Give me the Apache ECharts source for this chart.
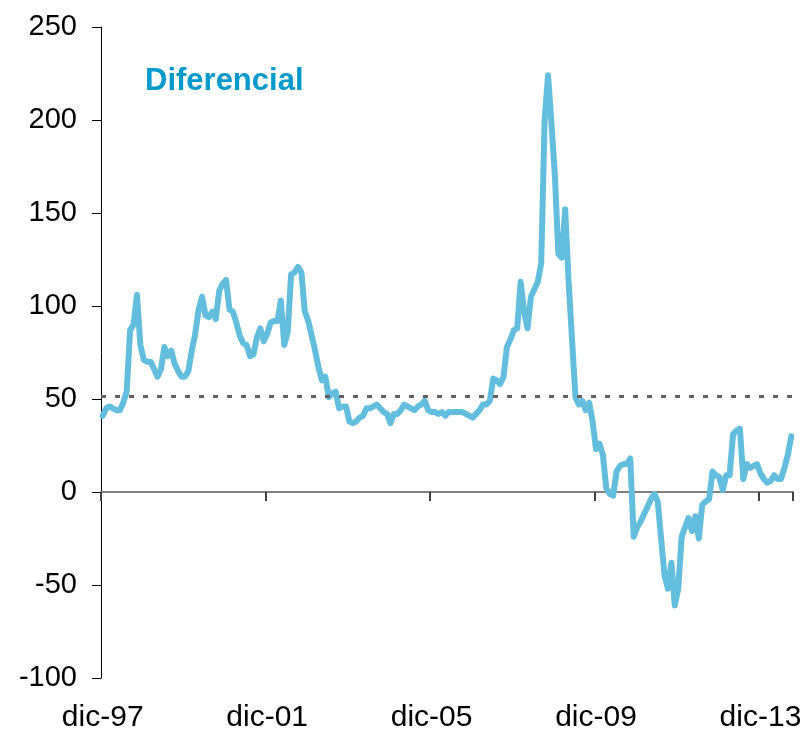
<!DOCTYPE html>
<html>
<head>
<meta charset="utf-8">
<script src="https://cdn.jsdelivr.net/npm/echarts@6/dist/echarts.min.js"></script>
<style>
html,body{margin:0;padding:0;background:#fff;}
#chart{width:810px;height:735px;}
</style>
</head>
<body>
<div id="chart"></div>
<script>
// Monthly series, starting dic-97
const monthNames = ['ene','feb','mar','abr','may','jun','jul','ago','sep','oct','nov','dic'];
const startYear = 1997;
const startMonth = 11; // dic
const diferencial = [
  41,45,46,45,44,44,48,54,87,90,106,79,
  71,70,70,66,62,66,78,73,76,69,65,62,
  62,65,76,85,98,105,95,94,97,93,108,112,
  114,98,97,91,84,80,79,73,74,83,88,81,
  85,91,92,92,103,79,86,117,118,121,118,97,
  92,84,76,67,60,62,51,53,54,45,46,46,
  38,37,38,40,41,45,45,46,47,45,43,42,
  37,42,42,44,47,46,45,44,46,47,49,44,
  43,43,42,43,41,43,43,43,43,43,42,41,
  40,42,44,47,47,49,61,60,58,62,78,82,
  87,88,113,97,88,105,109,113,123,200,224,198,
  170,128,126,152,113,82,51,47,49,44,48,38,
  23,26,20,2,-1,-2,11,14,15,15,18,-24,
  -19,-16,-12,-8,-4,-1,-5,-25,-45,-52,-38,-61,
  -52,-24,-19,-14,-21,-13,-25,-7,-5,-4,11,9,
  8,1,9,9,31,33,34,7,15,13,14,15,
  10,7,5,6,9,7,7,13,20,30
];
const promedio = 51.5;
const yTicks = [-100, -50, 0, 50, 100, 150, 200, 250];
const seriesName = 'Diferencial';

const categories = diferencial.map((_, i) => {
  const m = startMonth + i;
  const y = startYear + Math.floor(m / 12);
  return monthNames[m % 12] + '-' + String(y % 100).padStart(2, '0');
});

const FONT = "'Liberation Sans', Arial, sans-serif";
const chart = echarts.init(document.getElementById('chart'), null, {renderer: 'canvas'});
chart.setOption({
  animation: false,
  backgroundColor: '#ffffff',
  title: {
    text: seriesName,
    left: 140, top: 61,
    textStyle: {color: '#0099cc', fontWeight: 'bold', fontSize: 31, fontFamily: FONT}
  },
  grid: {left: 101, right: 17, top: 27, bottom: 57, containLabel: false},
  xAxis: [
    {
      type: 'category', data: categories, boundaryGap: true, position: 'bottom',
      axisLine: {show: false, onZero: false},
      axisTick: {show: false},
      axisLabel: {interval: 47, margin: 25, color: '#000', fontSize: 30, fontFamily: FONT},
      splitLine: {show: false}
    },
    {
      type: 'category', data: categories, boundaryGap: true, position: 'bottom',
      axisLine: {show: true, onZero: true, onZeroAxisIndex: 0, lineStyle: {color: '#808080', width: 2}},
      axisTick: {show: true, interval: 47, length: 9, inside: false, alignWithLabel: false, lineStyle: {color: '#404040', width: 2}},
      axisLabel: {show: false},
      splitLine: {show: false}
    }
  ],
  yAxis: {
    type: 'value', min: yTicks[0], max: yTicks[yTicks.length - 1], interval: 50,
    axisLine: {show: true, lineStyle: {color: '#000', width: 1}},
    axisTick: {show: true, length: 9, lineStyle: {color: '#000', width: 1}},
    axisLabel: {margin: 24, color: '#000', fontSize: 29, fontFamily: FONT},
    splitLine: {show: false}
  },
  series: [{
    name: seriesName,
    type: 'line',
    xAxisIndex: 0,
    data: diferencial,
    symbol: 'none',
    smooth: false,
    lineStyle: {color: '#63bede', width: 6, cap: 'round', join: 'round'},
    z: 2,
    markLine: {
      silent: true,
      symbol: ['none', 'none'],
      label: {show: false},
      lineStyle: {color: '#606060', width: 3, type: [5, 9]},
      data: [{yAxis: promedio}],
      z: 5
    }
  }]
});
</script>
</body>
</html>
